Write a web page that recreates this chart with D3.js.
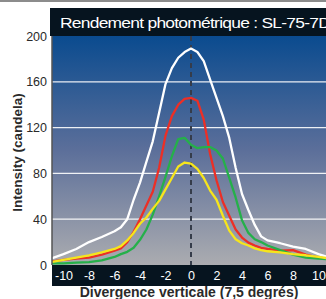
<!DOCTYPE html>
<html>
<head>
<meta charset="utf-8">
<script src="https://cdn.jsdelivr.net/npm/d3@7"></script>
<style>
body { margin: 0; background: #fff; }
text { font-family: "Liberation Sans", Arial, sans-serif; }
</style>
</head>
<body>
<div id="chart"></div>
<script>
var degrees = [-11,-10,-9,-8,-7,-6,-5.5,-5,-4.5,-4,-3.5,-3,-2.5,-2,-1.5,-1,-0.5,0,0.5,1,1.5,2,2.5,3,3.5,4,4.5,5,5.5,6,7,8,9,10,11];
var white  = [5.5,9.5,14,20,24.5,29.5,33,40,57,72,90,108,133,158,172,181,186,189,186,178,162,146,130,111,85,62,48,35,25,21.5,19,16,14,9.5,6];
var red    = [3,4.5,5.5,6.5,9,12.5,14.5,20,29,40,52,64,85,113,130,140,145,146,143.5,127,97,74,55,43,31,24,19.5,17,15,14,12.5,13,9,6.5,5];
var green  = [1.5,1.5,2,2.5,4,7,9.5,11.5,15,22,31,44,60,77,95,110,111,105,102,103,103,100,93,76,59,39,28,22.5,20,17,13,9,6.5,5.5,5];
var yellow = [2.5,4.5,6.5,8.5,11,14,16.5,21.5,28,36,41.5,49,56,66,76,86,89.5,88.5,84,76,65,57,43,30,22.5,19,17,14.5,13,12,11,9.5,8.5,7,5.5];
var xTicks = [-10,-8,-6,-4,-2,0,2,4,6,8,10];
var yTicks = [0,40,80,120,160,200];
var title = "Rendement photométrique : SL-75-7D";

var W = 326, H = 299;
var pLeft = 52, pRight = 326, pTop = 36, pBottom = 265;

var svg = d3.select("#chart").append("svg")
    .attr("width", W)
    .attr("height", H);

var x = d3.scaleLinear().domain([-10, 10]).range([63.5, 318.5]);
var y = d3.scaleLinear().domain([0, 200]).range([pBottom, pTop]);

var defs = svg.append("defs");
var grad = defs.append("linearGradient")
    .attr("id", "bg").attr("x1", 0).attr("y1", 0).attr("x2", 0).attr("y2", 1);
grad.append("stop").attr("offset", "0%").attr("stop-color", "#0a4b8f");
grad.append("stop").attr("offset", "50%").attr("stop-color", "#5c6f9a");
grad.append("stop").attr("offset", "100%").attr("stop-color", "#abacb0");
defs.append("clipPath").attr("id", "clip")
  .append("rect")
    .attr("x", pLeft).attr("y", pTop)
    .attr("width", pRight - pLeft).attr("height", pBottom - pTop);

// top grey rule
svg.append("rect").attr("x", 0).attr("y", 0).attr("width", W).attr("height", 2).attr("fill", "#8c8c8c");

// plot background
svg.append("rect")
    .attr("x", pLeft).attr("y", pTop)
    .attr("width", pRight - pLeft).attr("height", pBottom - pTop)
    .attr("fill", "url(#bg)");

// title bar
svg.append("rect")
    .attr("x", 50).attr("y", 8)
    .attr("width", W - 50).attr("height", pTop - 8)
    .attr("fill", "#06141f");
svg.append("text")
    .attr("x", 60).attr("y", 28)
    .attr("fill", "#fff")
    .attr("textLength", 270)
    .attr("lengthAdjust", "spacingAndGlyphs")
    .style("font-size", "14px")
    .style("letter-spacing", "-0.6px")
    .text(title);

// grid lines
svg.selectAll(".grid")
    .data(yTicks.filter(function(d) { return d > 0 && d < 200; }))
    .enter().append("line")
    .attr("x1", pLeft).attr("x2", pRight)
    .attr("y1", function(d) { return y(d); })
    .attr("y2", function(d) { return y(d); })
    .attr("stroke", "#fff")
    .attr("stroke-width", 1.2)
    .attr("opacity", 0.9);

// zero dashed line
svg.append("line")
    .attr("x1", x(0)).attr("x2", x(0))
    .attr("y1", pTop).attr("y2", pBottom)
    .attr("stroke", "#353c4a")
    .attr("stroke-width", 2)
    .attr("stroke-dasharray", "5,4");

// curves
var line = d3.line()
    .x(function(d, i) { return x(degrees[i]); })
    .y(function(d) { return y(d); });

var series = [
    { values: white, color: "#ffffff" },
    { values: red, color: "#ec2f26" },
    { values: green, color: "#25b04a" },
    { values: yellow, color: "#f6e51c" }
];
svg.append("g").attr("clip-path", "url(#clip)")
  .selectAll("path")
    .data(series)
    .enter().append("path")
    .attr("d", function(d) { return line(d.values); })
    .attr("fill", "none")
    .attr("stroke", function(d) { return d.color; })
    .attr("stroke-width", 2.3)
    .attr("stroke-linejoin", "round");

// left border
svg.append("line")
    .attr("x1", pLeft).attr("x2", pLeft)
    .attr("y1", pTop).attr("y2", pBottom)
    .attr("stroke", "#555")
    .attr("stroke-width", 1.5);

// x axis bar
svg.append("rect")
    .attr("x", pLeft).attr("y", pBottom)
    .attr("width", pRight - pLeft).attr("height", 21)
    .attr("fill", "#06141f");

svg.append("g")
    .attr("transform", "translate(0," + pBottom + ")")
    .call(d3.axisBottom(x).tickValues(xTicks).tickSize(0).tickPadding(6)
        .tickFormat(function(d) { return String(d); }))
    .call(function(g) {
        g.select(".domain").remove();
        g.selectAll("text")
            .attr("fill", "#fff")
            .style("font-size", "12.5px")
            .style("font-family", "Liberation Sans, Arial, sans-serif");
    });

svg.append("g")
    .attr("transform", "translate(" + pLeft + ",0)")
    .call(d3.axisLeft(y).tickValues(yTicks).tickSize(0).tickPadding(5))
    .call(function(g) {
        g.select(".domain").remove();
        g.selectAll("text")
            .attr("fill", "#2a2a2a")
            .style("font-size", "12.5px")
            .style("font-family", "Liberation Sans, Arial, sans-serif");
    });

svg.append("text")
    .attr("transform", "translate(22," + ((pTop + pBottom) / 2 + 2) + ") rotate(-90)")
    .style("text-anchor", "middle")
    .style("font-size", "13.5px")
    .style("font-weight", "bold")
    .attr("fill", "#2a2a2a")
    .text("Intensity (candela)");

svg.append("text")
    .attr("x", 189).attr("y", 297)
    .style("text-anchor", "middle")
    .style("font-size", "14px")
    .style("font-weight", "bold")
    .attr("fill", "#2a2a2a")
    .text("Divergence verticale (7,5 degrés)");
</script>
</body>
</html>
